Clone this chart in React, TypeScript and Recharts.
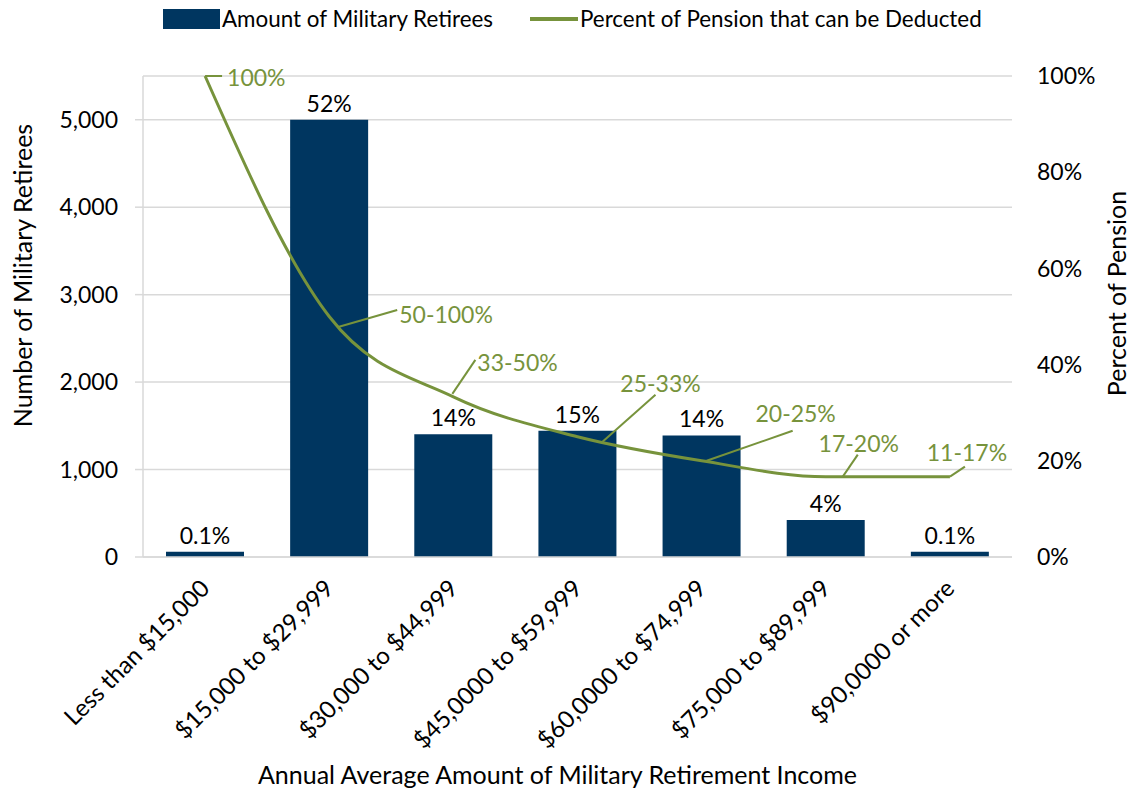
import React from 'react';
import { ComposedChart, Bar, Line, XAxis, YAxis, CartesianGrid, LabelList, Label } from 'recharts';

const categories = [
  'Less than $15,000',
  '$15,000 to $29,999',
  '$30,000 to $44,999',
  '$45,0000 to $59,999',
  '$60,0000 to $74,999',
  '$75,000 to $89,999',
  '$90,0000 or more',
];
const retirees = [60, 5000, 1404, 1445, 1390, 423, 60];
const retireeShares = ['0.1%', '52%', '14%', '15%', '14%', '4%', '0.1%'];
const pensionPct = [1.0, 0.5, 0.333, 0.25, 0.2, 0.167, 0.167];
const pensionLabels = ['100%', '50-100%', '33-50%', '25-33%', '20-25%', '17-20%', '11-17%'];
const leftTicks = [0, 1000, 2000, 3000, 4000, 5000];
const rightTicks = [0, 0.2, 0.4, 0.6, 0.8, 1];

const data = categories.map((c, i) => ({
  category: c,
  retirees: retirees[i],
  share: retireeShares[i],
  pct: pensionPct[i],
  pctLabel: pensionLabels[i],
}));

const FONT = 'Lato, "Open Sans", sans-serif';
const NAVY = '#003660';
const OLIVE = '#77933C';
const GRID = '#D9D9D9';

// leader-line styling offsets relative to each point
const LEADERS = [
  { s: [0, 0], e: [17, 0], t: [22, 1], a: 'start' },
  { s: [9, 10.5], e: [68, -6.5], t: [70, -3], a: 'start' },
  { s: [-1, -3], e: [22, -37], t: [24, -35], a: 'start' },
  { s: [25, 5], e: [78, -42], t: [83, -54], a: 'middle' },
  { s: [5, 0], e: [91, -30], t: [94, -48], a: 'middle' },
  { s: [17, 0], e: [32, -22], t: [33, -34], a: 'middle' },
  { s: [0, 0], e: [15, -10], t: [17, -25], a: 'middle' },
];

const renderLineLabel = (props: any) => {
  const { x, y, index } = props;
  const L = LEADERS[index];
  if (!L || x == null || y == null) return null;
  return (
    <g key={`ll-${index}`}>
      <line x1={x + L.s[0]} y1={y + L.s[1]} x2={x + L.e[0]} y2={y + L.e[1]} stroke={OLIVE} strokeWidth={2} />
      <text x={x + L.t[0]} y={y + L.t[1]} textAnchor={L.a as any} dominantBaseline="central" fill={OLIVE} fontSize={23} fontFamily={FONT}>
        {pensionLabels[index]}
      </text>
    </g>
  );
};

const XTick = (props: any) => {
  const { x, payload } = props;
  return (
    <g transform={`translate(${x + 6},590)`}>
      <text x={0} y={0} textAnchor="end" transform="rotate(-45)" fill="#000" fontSize={24} fontFamily={FONT}>
        {payload.value}
      </text>
    </g>
  );
};

const LeftTitle = (props: any) => {
  const vb = props.viewBox;
  const cx = vb.x + 22;
  const cy = vb.y + vb.height / 2 - 41;
  return (
    <text x={cx} y={cy} transform={`rotate(-90,${cx},${cy})`} textAnchor="middle" dominantBaseline="central" fill="#000" fontSize={25} fontFamily={FONT}>
      Number of Military Retirees
    </text>
  );
};

const RightTitle = (props: any) => {
  const vb = props.viewBox;
  const cx = vb.x + 104;
  const cy = vb.y + vb.height / 2 - 23;
  return (
    <text x={cx} y={cy} transform={`rotate(-90,${cx},${cy})`} textAnchor="middle" dominantBaseline="central" fill="#000" fontSize={25} fontFamily={FONT}>
      Percent of Pension
    </text>
  );
};

const BottomTitle = (props: any) => {
  const vb = props.viewBox;
  return (
    <text x={vb.x + vb.width / 2 - 20} y={784} textAnchor="middle" fill="#000" fontSize={25} fontFamily={FONT}>
      Annual Average Amount of Military Retirement Income
    </text>
  );
};

const Legend = () => (
  <div style={{ position: 'absolute', left: 0, top: 0, width: 1132, height: 40, fontFamily: FONT, fontSize: 22.4, color: '#000' }}>
    <div style={{ position: 'absolute', left: 163, top: 9, width: 57, height: 20, background: NAVY }} />
    <div style={{ position: 'absolute', left: 222, top: 4, lineHeight: '30px', whiteSpace: 'nowrap' }}>Amount of Military Retirees</div>
    <div style={{ position: 'absolute', left: 530, top: 17, width: 48, height: 4, background: OLIVE }} />
    <div style={{ position: 'absolute', left: 580, top: 4, lineHeight: '30px', whiteSpace: 'nowrap' }}>Percent of Pension that can be Deducted</div>
  </div>
);

export default function App() {
  return (
    <div style={{ position: 'absolute', left: 0, top: 0, width: 1132, height: 793, background: '#fff' }}>
      <ComposedChart width={1132} height={793} data={data} margin={{ top: 76, right: 0, bottom: 0, left: 0 }}>
        <CartesianGrid yAxisId="left" vertical={false} stroke={GRID} strokeWidth={1.5} />
        <XAxis
          dataKey="category"
          height={236}
          interval={0}
          tickLine={false}
          axisLine={{ stroke: GRID, strokeWidth: 1.5 }}
          tick={<XTick />}
        >
          <Label content={<BottomTitle />} />
        </XAxis>
        <YAxis
          yAxisId="left"
          orientation="left"
          width={143}
          domain={[0, 5500]}
          ticks={leftTicks}
          interval={0}
          tickSize={8}
          tickMargin={17}
          tickLine={{ stroke: GRID, strokeWidth: 1.5 }}
          axisLine={{ stroke: GRID, strokeWidth: 1.5 }}
          tick={{ fill: '#000', fontSize: 23, fontFamily: FONT }}
          tickFormatter={(v: number) => v.toLocaleString('en-US')}
        >
          <Label content={<LeftTitle />} />
        </YAxis>
        <YAxis
          yAxisId="right"
          orientation="right"
          width={120}
          domain={[0, 1]}
          ticks={rightTicks}
          interval={0}
          tickSize={6}
          tickMargin={19}
          tickLine={false}
          axisLine={false}
          tick={{ fill: '#000', fontSize: 23, fontFamily: FONT, textAnchor: 'start' }}
          tickFormatter={(v: number) => `${Math.round(v * 100)}%`}
        >
          <Label content={<RightTitle />} />
        </YAxis>
        <Bar yAxisId="left" dataKey="retirees" fill={NAVY} barSize={78} isAnimationActive={false}>
          <LabelList dataKey="share" position="top" offset={8} fill="#000" fontSize={23} fontFamily={FONT} />
        </Bar>
        <Line
          yAxisId="right"
          type="monotone"
          dataKey="pct"
          stroke={OLIVE}
          strokeWidth={3}
          dot={false}
          activeDot={false}
          isAnimationActive={false}
          label={renderLineLabel}
        />
      </ComposedChart>
      <Legend />
    </div>
  );
}
